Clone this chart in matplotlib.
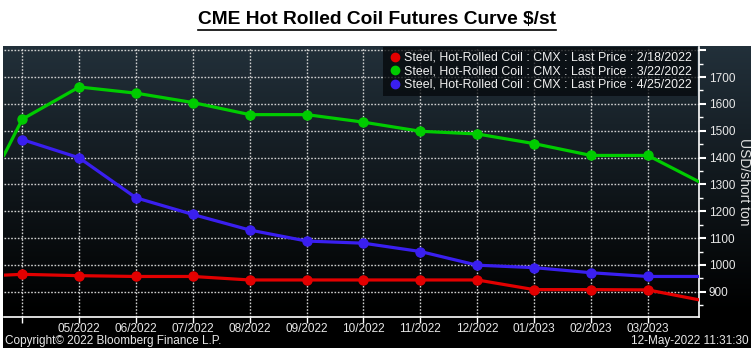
import matplotlib.pyplot as plt
import numpy as np
from matplotlib.lines import Line2D

months = ["04/2022", "05/2022", "06/2022", "07/2022", "08/2022", "09/2022",
          "10/2022", "11/2022", "12/2022", "01/2023", "02/2023", "03/2023"]
tick_labels = [""] + months[1:]

red_vals = [965, 960, 957, 957, 944, 944, 944, 944, 944, 908, 908, 907]
green_vals = [1543, 1663, 1640, 1605, 1560, 1560, 1532, 1498, 1488, 1452, 1408, 1408]
blue_vals = [1467, 1399, 1250, 1188, 1130, 1089, 1081, 1050, 999, 990, 971, 957]

# values where the curves cross the left / right edge of the plot
red_edges = (962, 870)
green_edges = (1409, 1310)
blue_edges = (None, 957)

legend_labels = [
    "Steel, Hot-Rolled Coil : CMX : Last Price : 2/18/2022",
    "Steel, Hot-Rolled Coil : CMX : Last Price : 3/22/2022",
    "Steel, Hot-Rolled Coil : CMX : Last Price : 4/25/2022",
]
colors = ["#e30000", "#00cc00", "#3a1ff0"]

plt.rcParams["font.family"] = ["Liberation Sans", "DejaVu Sans"]

W, H = 754, 352
fig = plt.figure(figsize=(W / 100, H / 100), dpi=100)
fig.patch.set_facecolor("white")

# dark panel with vertical gradient
bg = fig.add_axes([3 / W, 1 - 348 / H, 748 / W, (348 - 46) / H])
t = np.linspace(0, 1, 256)
top = np.array([34, 48, 58]) / 255
fade = np.clip(t / 0.88, 0, 1)[:, None]
grad = top[None, :] * (1 - fade)
bg.imshow(grad[:, None, :].repeat(2, axis=1), aspect="auto", extent=[0, 1, 0, 1])
bg.set_axis_off()

ax = fig.add_axes([4 / W, 1 - 317 / H, (699 - 4) / W, (317 - 47) / H])
ax.set_facecolor("none")
x_left, x_right = -0.322, 11.9
ax.set_xlim(x_left, x_right)
ax.set_ylim(806, 1812)

x = np.arange(len(months))
for vals, edges, c in [(red_vals, red_edges, colors[0]),
                       (green_vals, green_edges, colors[1]),
                       (blue_vals, blue_edges, colors[2])]:
    xs = list(x)
    ys = list(vals)
    if edges[0] is not None:
        xs = [x_left] + xs
        ys = [edges[0]] + ys
    xs = xs + [x_right]
    ys = ys + [edges[1]]
    ax.plot(xs, ys, color=c, lw=2.3, zorder=3, clip_on=True)
    ax.plot(x, vals, "o", color=c, ms=6.5, zorder=4)

ax.set_xticks(x)
ax.set_xticklabels(tick_labels)
ax.set_yticks(np.arange(900, 1801, 100))
ax.set_yticklabels([str(v) for v in range(900, 1800, 100)] + [""])
ax.set_yticks(np.arange(850, 1811, 50), minor=True)
ax.yaxis.tick_right()
ax.yaxis.set_label_position("right")
ax.tick_params(axis="y", which="major", colors="white", labelcolor="#e8e8e8",
               length=5, width=1.5, labelsize=8.5, pad=2)
ax.tick_params(axis="y", which="minor", colors="white", length=3, width=1)
ax.tick_params(axis="x", colors="white", labelcolor="#e8e8e8", length=4,
               width=1, labelsize=8.5, pad=0.5)
ax.grid(True, which="major", color="#d0d0d0", lw=1, ls=(0, (1.2, 1.2)))

for s in ["left", "top"]:
    ax.spines[s].set_visible(False)
for s in ["right", "bottom"]:
    ax.spines[s].set_color("white")
    ax.spines[s].set_linewidth(1.2)

ax.set_ylabel("USD/short ton", rotation=270, color="#e0e0e0", fontsize=10,
              labelpad=11)

handles = [Line2D([], [], ls="none", marker="o", color=c, ms=6) for c in colors]
leg = ax.legend(handles, legend_labels, loc="upper right",
                bbox_to_anchor=(0.997, 1.0), fontsize=8.9, frameon=True,
                borderaxespad=0, handletextpad=0.1, handlelength=1.2,
                labelspacing=0.12, borderpad=0.4, fancybox=False)
leg.get_frame().set_facecolor("#05080b")
leg.get_frame().set_alpha(0.75)
leg.get_frame().set_edgecolor("none")
for txt in leg.get_texts():
    txt.set_color("#f0f0f0")

title = fig.text(0.5, 1 - 20 / H, "CME Hot Rolled Coil Futures Curve $/st",
                 ha="center", va="center", fontsize=13.8, fontweight="bold",
                 color="black")
fig.canvas.draw()
bb = title.get_window_extent()
uy = (bb.y0 - 1) / H
fig.add_artist(Line2D([bb.x0 / W, bb.x1 / W], [uy, uy], color="black", lw=1.2))

fig.text(5 / W, 1 - 341 / H, "Copyright\u00a9 2022 Bloomberg Finance L.P.",
         ha="left", va="center", fontsize=8.5, color="#e8e8e8")
fig.text(749 / W, 1 - 341 / H, "12-May-2022 11:31:30",
         ha="right", va="center", fontsize=8.5, color="#e8e8e8")

fig.savefig("out.png", dpi=100, facecolor=fig.get_facecolor())
